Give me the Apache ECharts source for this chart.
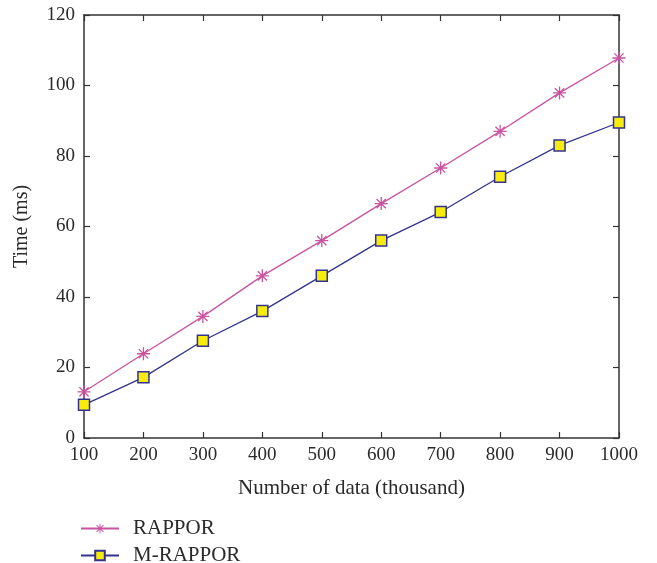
<!DOCTYPE html>
<html>
<head>
<meta charset="utf-8">
<script src="https://cdn.jsdelivr.net/npm/echarts@6/dist/echarts.min.js"></script>
<style>
  html, body { margin: 0; padding: 0; background: #fff; }
  #chart { width: 657px; height: 563px; }
</style>
</head>
<body>
<div id="chart"></div>
<script>
// data
const dataSizes = [100, 200, 300, 400, 500, 600, 700, 800, 900, 1000]
const rappor = [13.1, 23.9, 34.5, 46.0, 56.0, 66.5, 76.6, 87.0, 97.9, 107.8]
const mRappor = [9.4, 17.2, 27.6, 36.0, 46.0, 56.0, 64.1, 74.1, 83.0, 89.5]

const serif = '"Liberation Serif", "DejaVu Serif", serif'
const axisColor = '#333'
const textColor = '#2a2a2a'

// asterisk marker
const starPath = 'path://M-1,-10L1,-10L1,10L-1,10Z M-10,-1L10,-1L10,1L-10,1Z ' +
  'M-7.8,-6.4L-6.4,-7.8L7.8,6.4L6.4,7.8Z M6.4,-7.8L7.8,-6.4L-6.4,7.8L-7.8,6.4Z'

const pairs = arr => dataSizes.map((x, i) => [x, arr[i]])

const baseX = {
  type: 'value', min: 100, max: 1000, interval: 100,
  axisLine: { show: true, onZero: false, lineStyle: { color: axisColor, width: 1.5 } },
  axisTick: { show: true, inside: true, length: 6, lineStyle: { color: axisColor, width: 1.2 } },
  splitLine: { show: false }
}
const baseY = {
  type: 'value', min: 0, max: 120, interval: 20,
  axisLine: { show: true, onZero: false, lineStyle: { color: axisColor, width: 1.5 } },
  axisTick: { show: true, inside: true, length: 6, lineStyle: { color: axisColor, width: 1.2 } },
  splitLine: { show: false }
}

const legendText = { fontFamily: serif, fontSize: 21, color: textColor, padding: [0, 0, 0, 9] }

const chart = echarts.init(document.getElementById('chart'))
chart.setOption({
  backgroundColor: '#fff',
  animation: false,
  textStyle: { fontFamily: serif },
  grid: { left: 84, right: 38, top: 15, bottom: 125 },
  legend: [
    {
      left: 80, top: 518, padding: 0,
      itemWidth: 38, itemHeight: 12,
      textStyle: legendText,
      data: ['RAPPOR']
    },
    {
      left: 80, top: 545, padding: 0,
      itemWidth: 38, itemHeight: 12,
      textStyle: legendText,
      data: ['M-RAPPOR']
    }
  ],
  xAxis: [
    Object.assign({}, baseX, {
      position: 'bottom',
      name: 'Number of data (thousand)',
      nameLocation: 'middle', nameGap: 40,
      nameTextStyle: { fontFamily: serif, fontSize: 21, color: textColor },
      axisLabel: { fontFamily: serif, fontSize: 19, color: textColor, margin: 8, formatter: v => String(v) }
    }),
    Object.assign({}, baseX, { position: 'top', axisLabel: { show: false } })
  ],
  yAxis: [
    Object.assign({}, baseY, {
      position: 'left',
      name: 'Time (ms)',
      nameLocation: 'middle', nameGap: 52,
      nameTextStyle: { fontFamily: serif, fontSize: 20, color: textColor },
      axisLabel: { fontFamily: serif, fontSize: 19, color: textColor, margin: 9 }
    }),
    Object.assign({}, baseY, { position: 'right', axisLabel: { show: false } })
  ],
  series: [
    {
      name: 'RAPPOR',
      type: 'line',
      data: pairs(rappor),
      symbol: starPath,
      symbolSize: 13,
      lineStyle: { color: '#c9539f', width: 1.3 },
      itemStyle: { color: '#c9539f' }
    },
    {
      name: 'M-RAPPOR',
      type: 'line',
      data: pairs(mRappor),
      symbol: 'rect',
      symbolSize: 11,
      lineStyle: { color: '#33338f', width: 1.3 },
      itemStyle: { color: '#f7ec0c', borderColor: '#33338f', borderWidth: 1.5 }
    }
  ]
})
</script>
</body>
</html>
